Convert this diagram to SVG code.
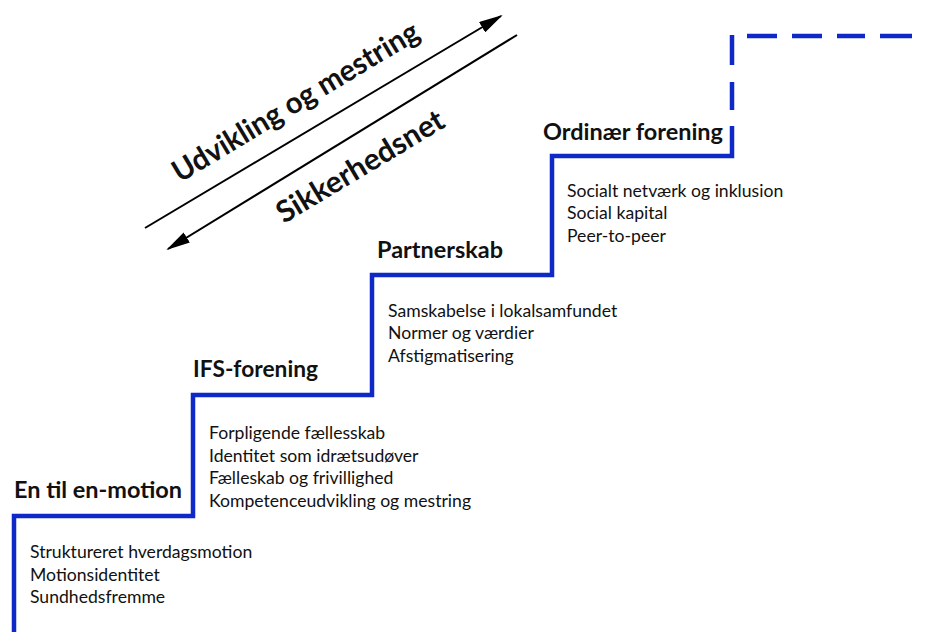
<svg xmlns="http://www.w3.org/2000/svg" width="933" height="637" viewBox="0 0 933 637">
<style>
.step{fill:none;stroke:#0e29c8;stroke-width:4.5;stroke-linecap:butt;stroke-linejoin:miter}
.arr{stroke:#000;stroke-width:2;fill:none}
.h{font-family:Lato,"Open Sans","Liberation Sans",sans-serif;font-weight:bold;font-size:22px;fill:#111}
.b{font-family:Lato,"Open Sans","Liberation Sans",sans-serif;font-size:17.6px;fill:#111}
.big{font-family:Lato,"Open Sans","Liberation Sans",sans-serif;font-weight:bold;font-size:30px;fill:#111}
</style>
<defs>
<marker id="ah" markerWidth="24" markerHeight="12" refX="22" refY="6" orient="auto" markerUnits="userSpaceOnUse">
<path d="M0,0 L24,6 L0,12 Z" fill="#000"/>
</marker>
</defs>
<rect width="933" height="637" fill="#fff"/>
<g id="connectors">
<path class="step" d="M14,632 V516 H193 V395 H372 V275 H552 V156 H732 V126"/>
<path class="step" d="M732,110 V82 M732,65 V35 M747,36 H777 M792,36 H822 M837,36 H865 M880,36 H912"/>
<line class="arr" x1="145" y1="228" x2="501" y2="16" marker-end="url(#ah)"/>
<line class="arr" x1="517" y1="35" x2="168" y2="249" marker-end="url(#ah)"/>
</g>
<g id="arrow-labels">
<text class="big" transform="translate(180,183) rotate(-31)" textLength="282" lengthAdjust="spacingAndGlyphs">Udvikling og mestring</text>
<text class="big" transform="translate(284,224) rotate(-31)" textLength="190" lengthAdjust="spacingAndGlyphs">Sikkerhedsnet</text>
</g>
<g id="step1">
<text class="h" x="14" y="498" textLength="168" lengthAdjust="spacingAndGlyphs">En til en-motion</text>
<text class="b" x="30" y="558">Struktureret hverdagsmotion</text>
<text class="b" x="30" y="581">Motionsidentitet</text>
<text class="b" x="30" y="603">Sundhedsfremme</text>
</g>
<g id="step2">
<text class="h" x="193" y="377" textLength="125" lengthAdjust="spacingAndGlyphs">IFS-forening</text>
<text class="b" x="209" y="439">Forpligende fællesskab</text>
<text class="b" x="209" y="462">Identitet som idrætsudøver</text>
<text class="b" x="209" y="484">Fælleskab og frivillighed</text>
<text class="b" x="209" y="507">Kompetenceudvikling og mestring</text>
</g>
<g id="step3">
<text class="h" x="377" y="258" textLength="126" lengthAdjust="spacingAndGlyphs">Partnerskab</text>
<text class="b" x="388" y="317">Samskabelse i lokalsamfundet</text>
<text class="b" x="388" y="339">Normer og værdier</text>
<text class="b" x="388" y="362">Afstigmatisering</text>
</g>
<g id="step4">
<text class="h" x="543" y="140" textLength="180" lengthAdjust="spacingAndGlyphs">Ordinær forening</text>
<text class="b" x="567" y="197">Socialt netværk og inklusion</text>
<text class="b" x="567" y="219">Social kapital</text>
<text class="b" x="567" y="242">Peer-to-peer</text>
</g>
</svg>
